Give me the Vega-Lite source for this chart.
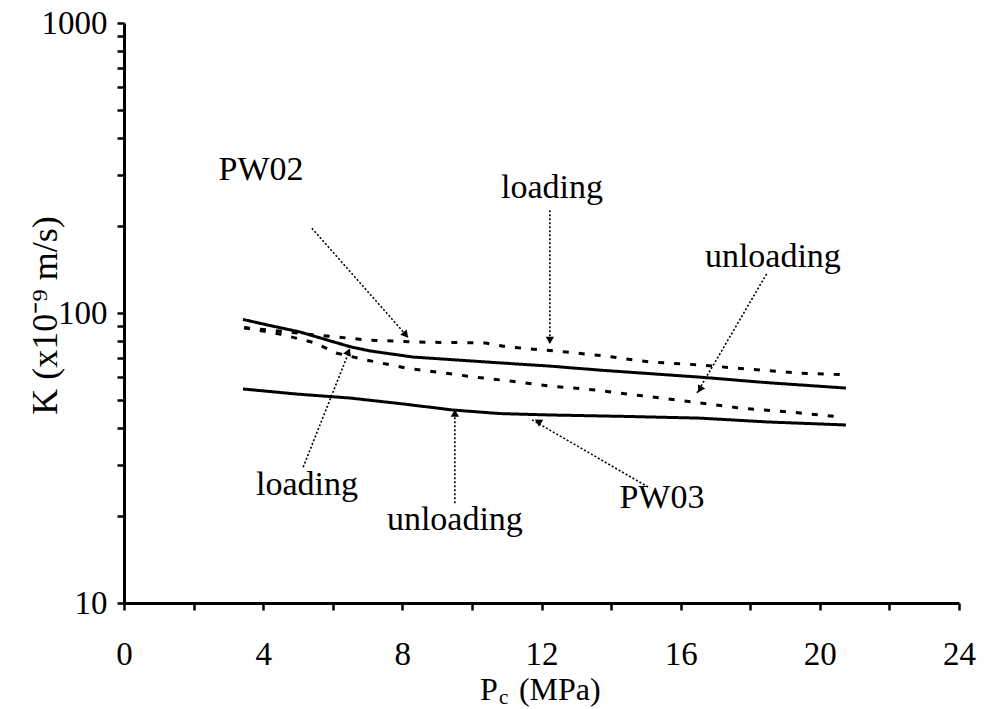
{
  "$schema": "https://vega.github.io/schema/vega-lite/v6.json",
  "autosize": {"type": "none"},
  "padding": {"left": 124, "top": 23, "right": 31, "bottom": 106},
  "width": 835,
  "height": 580,
  "background": "white",
  "config": {
    "view": {"stroke": null},
    "font": "Liberation Serif",
    "axis": {
      "domainColor": "black", "domainWidth": 3, "tickColor": "black", "tickWidth": 2.5, "tickSize": 7,
      "labelFont": "Liberation Serif", "labelFontSize": 33, "labelColor": "black",
      "titleFont": "Liberation Serif", "titleFontSize": 36, "titleFontWeight": "normal", "titleColor": "black",
      "grid": false
    }
  },
  "datasets": {
    "curves": [
      {"sample": "PW03", "phase": "loading", "P": 3.42, "K": 95},
      {"sample": "PW03", "phase": "loading", "P": 4.2, "K": 90.5},
      {"sample": "PW03", "phase": "loading", "P": 5.06, "K": 86},
      {"sample": "PW03", "phase": "loading", "P": 6.5, "K": 76.5},
      {"sample": "PW03", "phase": "loading", "P": 7.07, "K": 74},
      {"sample": "PW03", "phase": "loading", "P": 8.3, "K": 70.5},
      {"sample": "PW03", "phase": "loading", "P": 10.8, "K": 67.3},
      {"sample": "PW03", "phase": "loading", "P": 12.24, "K": 65.6},
      {"sample": "PW03", "phase": "loading", "P": 13.7, "K": 63.5},
      {"sample": "PW03", "phase": "loading", "P": 16.55, "K": 60.1},
      {"sample": "PW03", "phase": "loading", "P": 18.5, "K": 57.5},
      {"sample": "PW03", "phase": "loading", "P": 20.75, "K": 55.1},
      {"sample": "PW03", "phase": "unloading", "P": 3.42, "K": 54.7},
      {"sample": "PW03", "phase": "unloading", "P": 5.0, "K": 52.5},
      {"sample": "PW03", "phase": "unloading", "P": 6.5, "K": 50.9},
      {"sample": "PW03", "phase": "unloading", "P": 8.0, "K": 48.6},
      {"sample": "PW03", "phase": "unloading", "P": 9.45, "K": 46.3},
      {"sample": "PW03", "phase": "unloading", "P": 10.8, "K": 45.0},
      {"sample": "PW03", "phase": "unloading", "P": 12.24, "K": 44.5},
      {"sample": "PW03", "phase": "unloading", "P": 14.4, "K": 44.0},
      {"sample": "PW03", "phase": "unloading", "P": 16.55, "K": 43.4},
      {"sample": "PW03", "phase": "unloading", "P": 18.5, "K": 42.1},
      {"sample": "PW03", "phase": "unloading", "P": 20.75, "K": 41.1},
      {"sample": "PW02", "phase": "loading", "P": 3.45, "K": 89},
      {"sample": "PW02", "phase": "loading", "P": 4.5, "K": 86.5},
      {"sample": "PW02", "phase": "loading", "P": 5.5, "K": 84},
      {"sample": "PW02", "phase": "loading", "P": 7.0, "K": 80.7},
      {"sample": "PW02", "phase": "loading", "P": 8.4, "K": 79.4},
      {"sample": "PW02", "phase": "loading", "P": 10.4, "K": 78.8},
      {"sample": "PW02", "phase": "loading", "P": 11.0, "K": 76.4},
      {"sample": "PW02", "phase": "loading", "P": 12.4, "K": 74},
      {"sample": "PW02", "phase": "loading", "P": 13.8, "K": 71.1},
      {"sample": "PW02", "phase": "loading", "P": 15.1, "K": 67.8},
      {"sample": "PW02", "phase": "loading", "P": 16.55, "K": 66.2},
      {"sample": "PW02", "phase": "loading", "P": 17.9, "K": 64.1},
      {"sample": "PW02", "phase": "loading", "P": 19.35, "K": 62.1},
      {"sample": "PW02", "phase": "loading", "P": 20.6, "K": 61.3},
      {"sample": "PW02", "phase": "unloading", "P": 3.45, "K": 89},
      {"sample": "PW02", "phase": "unloading", "P": 4.5, "K": 84.5},
      {"sample": "PW02", "phase": "unloading", "P": 5.5, "K": 78.8},
      {"sample": "PW02", "phase": "unloading", "P": 6.1, "K": 72.8},
      {"sample": "PW02", "phase": "unloading", "P": 6.85, "K": 69.3},
      {"sample": "PW02", "phase": "unloading", "P": 8.1, "K": 64.6},
      {"sample": "PW02", "phase": "unloading", "P": 10.1, "K": 60.1},
      {"sample": "PW02", "phase": "unloading", "P": 10.8, "K": 58.8},
      {"sample": "PW02", "phase": "unloading", "P": 12.24, "K": 56},
      {"sample": "PW02", "phase": "unloading", "P": 13.6, "K": 54.2},
      {"sample": "PW02", "phase": "unloading", "P": 14.9, "K": 51.8},
      {"sample": "PW02", "phase": "unloading", "P": 16.3, "K": 49.4},
      {"sample": "PW02", "phase": "unloading", "P": 17.7, "K": 47},
      {"sample": "PW02", "phase": "unloading", "P": 19.1, "K": 45.6},
      {"sample": "PW02", "phase": "unloading", "P": 20.6, "K": 43.8}
    ],
    "arrows": [
      {"id": "a1", "P": 5.4, "K": 196}, {"id": "a1", "P": 8.16, "K": 82.6},
      {"id": "a2", "P": 12.24, "K": 226}, {"id": "a2", "P": 12.24, "K": 78.8},
      {"id": "a3", "P": 18.48, "K": 137}, {"id": "a3", "P": 16.47, "K": 53},
      {"id": "a4", "P": 5.15, "K": 29.4}, {"id": "a4", "P": 6.5, "K": 75.2},
      {"id": "a5", "P": 9.51, "K": 22.1}, {"id": "a5", "P": 9.51, "K": 46.3},
      {"id": "a6", "P": 15.12, "K": 24.9}, {"id": "a6", "P": 11.73, "K": 42.8}
    ],
    "heads": [
      {"P": 8.1, "K": 84, "dir": 140},
      {"P": 12.24, "K": 80.5, "dir": 180},
      {"P": 16.55, "K": 54.5, "dir": 210},
      {"P": 6.45, "K": 73.5, "dir": 22},
      {"P": 9.51, "K": 45.2, "dir": 0},
      {"P": 11.9, "K": 42.3, "dir": 301}
    ],
    "labels": [
      {"P": 3.94, "K": 311, "text": "PW02"},
      {"P": 12.3, "K": 270, "text": "loading"},
      {"P": 18.65, "K": 156, "text": "unloading"},
      {"P": 5.26, "K": 25.5, "text": "loading"},
      {"P": 9.51, "K": 19.3, "text": "unloading"},
      {"P": 15.46, "K": 23.0, "text": "PW03"}
    ],
    "xtitle": [
      {"P": 10.23, "K": 5.01, "text": "P", "part": "main"},
      {"P": 10.78, "K": 4.7, "text": "c", "part": "sub"},
      {"P": 11.35, "K": 5.01, "text": "(MPa)", "part": "main"}
    ]
  },
  "layer": [
    {
      "data": {"name": "curves"},
      "mark": {"type": "line", "color": "black", "strokeWidth": 3},
      "encoding": {
        "x": {"field": "P", "type": "quantitative",
              "scale": {"domain": [0, 24], "nice": false},
              "axis": {"values": [0, 2, 4, 6, 8, 10, 12, 14, 16, 18, 20, 22, 24],
                       "labelExpr": "datum.value % 4 == 0 ? datum.label : ''",
                       "labelFont": "Liberation Serif", "labelFontSize": 33,
                       "labelPadding": 28, "title": null, "labelFlush": false}},
        "y": {"field": "K", "type": "quantitative",
              "scale": {"type": "log", "domain": [10, 1000], "nice": false},
              "axis": {"values": [10, 20, 30, 40, 50, 60, 70, 80, 90, 100, 200, 300, 400, 500, 600, 700, 800, 900, 1000],
                       "labelExpr": "indexof([10, 100, 1000], datum.value) >= 0 ? format(datum.value, 'd') : ''",
                       "labelFont": "Liberation Serif", "labelFontSize": 33,
                       "labelPadding": 10,
                       "title": "K (x10⁻⁹ m/s)", "titleFont": "Liberation Serif", "titleFontSize": 36,
                       "titleX": -79, "titleY": 292, "titleAngle": -90,
                       "titleAlign": "center", "titleBaseline": "middle"}},
        "strokeDash": {"field": "sample", "type": "nominal",
                       "scale": {"domain": ["PW02", "PW03"], "range": [[6, 10], [1, 0]]}, "legend": null},
        "detail": {"field": "phase"},
        "order": {"field": "P", "type": "quantitative"}
      }
    },
    {
      "data": {"name": "arrows"},
      "mark": {"type": "line", "color": "black", "strokeWidth": 1.6, "strokeDash": [2, 2]},
      "encoding": {
        "x": {"field": "P", "type": "quantitative"},
        "y": {"field": "K", "type": "quantitative"},
        "detail": {"field": "id"}
      }
    },
    {
      "data": {"name": "heads"},
      "mark": {"type": "point", "shape": "triangle-up", "filled": true, "color": "black", "size": 70, "opacity": 1},
      "encoding": {
        "x": {"field": "P", "type": "quantitative"},
        "y": {"field": "K", "type": "quantitative"},
        "angle": {"field": "dir", "type": "quantitative", "scale": null}
      }
    },
    {
      "data": {"name": "labels"},
      "mark": {"type": "text", "font": "Liberation Serif", "fontSize": 34, "color": "black", "align": "center", "baseline": "middle"},
      "encoding": {
        "x": {"field": "P", "type": "quantitative"},
        "y": {"field": "K", "type": "quantitative"},
        "text": {"field": "text"}
      }
    },
    {
      "data": {"name": "xtitle"},
      "transform": [{"filter": "datum.part == 'main'"}],
      "mark": {"type": "text", "font": "Liberation Serif", "fontSize": 32, "color": "black", "align": "left", "baseline": "middle"},
      "encoding": {
        "x": {"field": "P", "type": "quantitative"},
        "y": {"field": "K", "type": "quantitative"},
        "text": {"field": "text"}
      }
    },
    {
      "data": {"name": "xtitle"},
      "transform": [{"filter": "datum.part == 'sub'"}],
      "mark": {"type": "text", "font": "Liberation Serif", "fontSize": 21, "color": "black", "align": "left", "baseline": "middle"},
      "encoding": {
        "x": {"field": "P", "type": "quantitative"},
        "y": {"field": "K", "type": "quantitative"},
        "text": {"field": "text"}
      }
    }
  ]
}
